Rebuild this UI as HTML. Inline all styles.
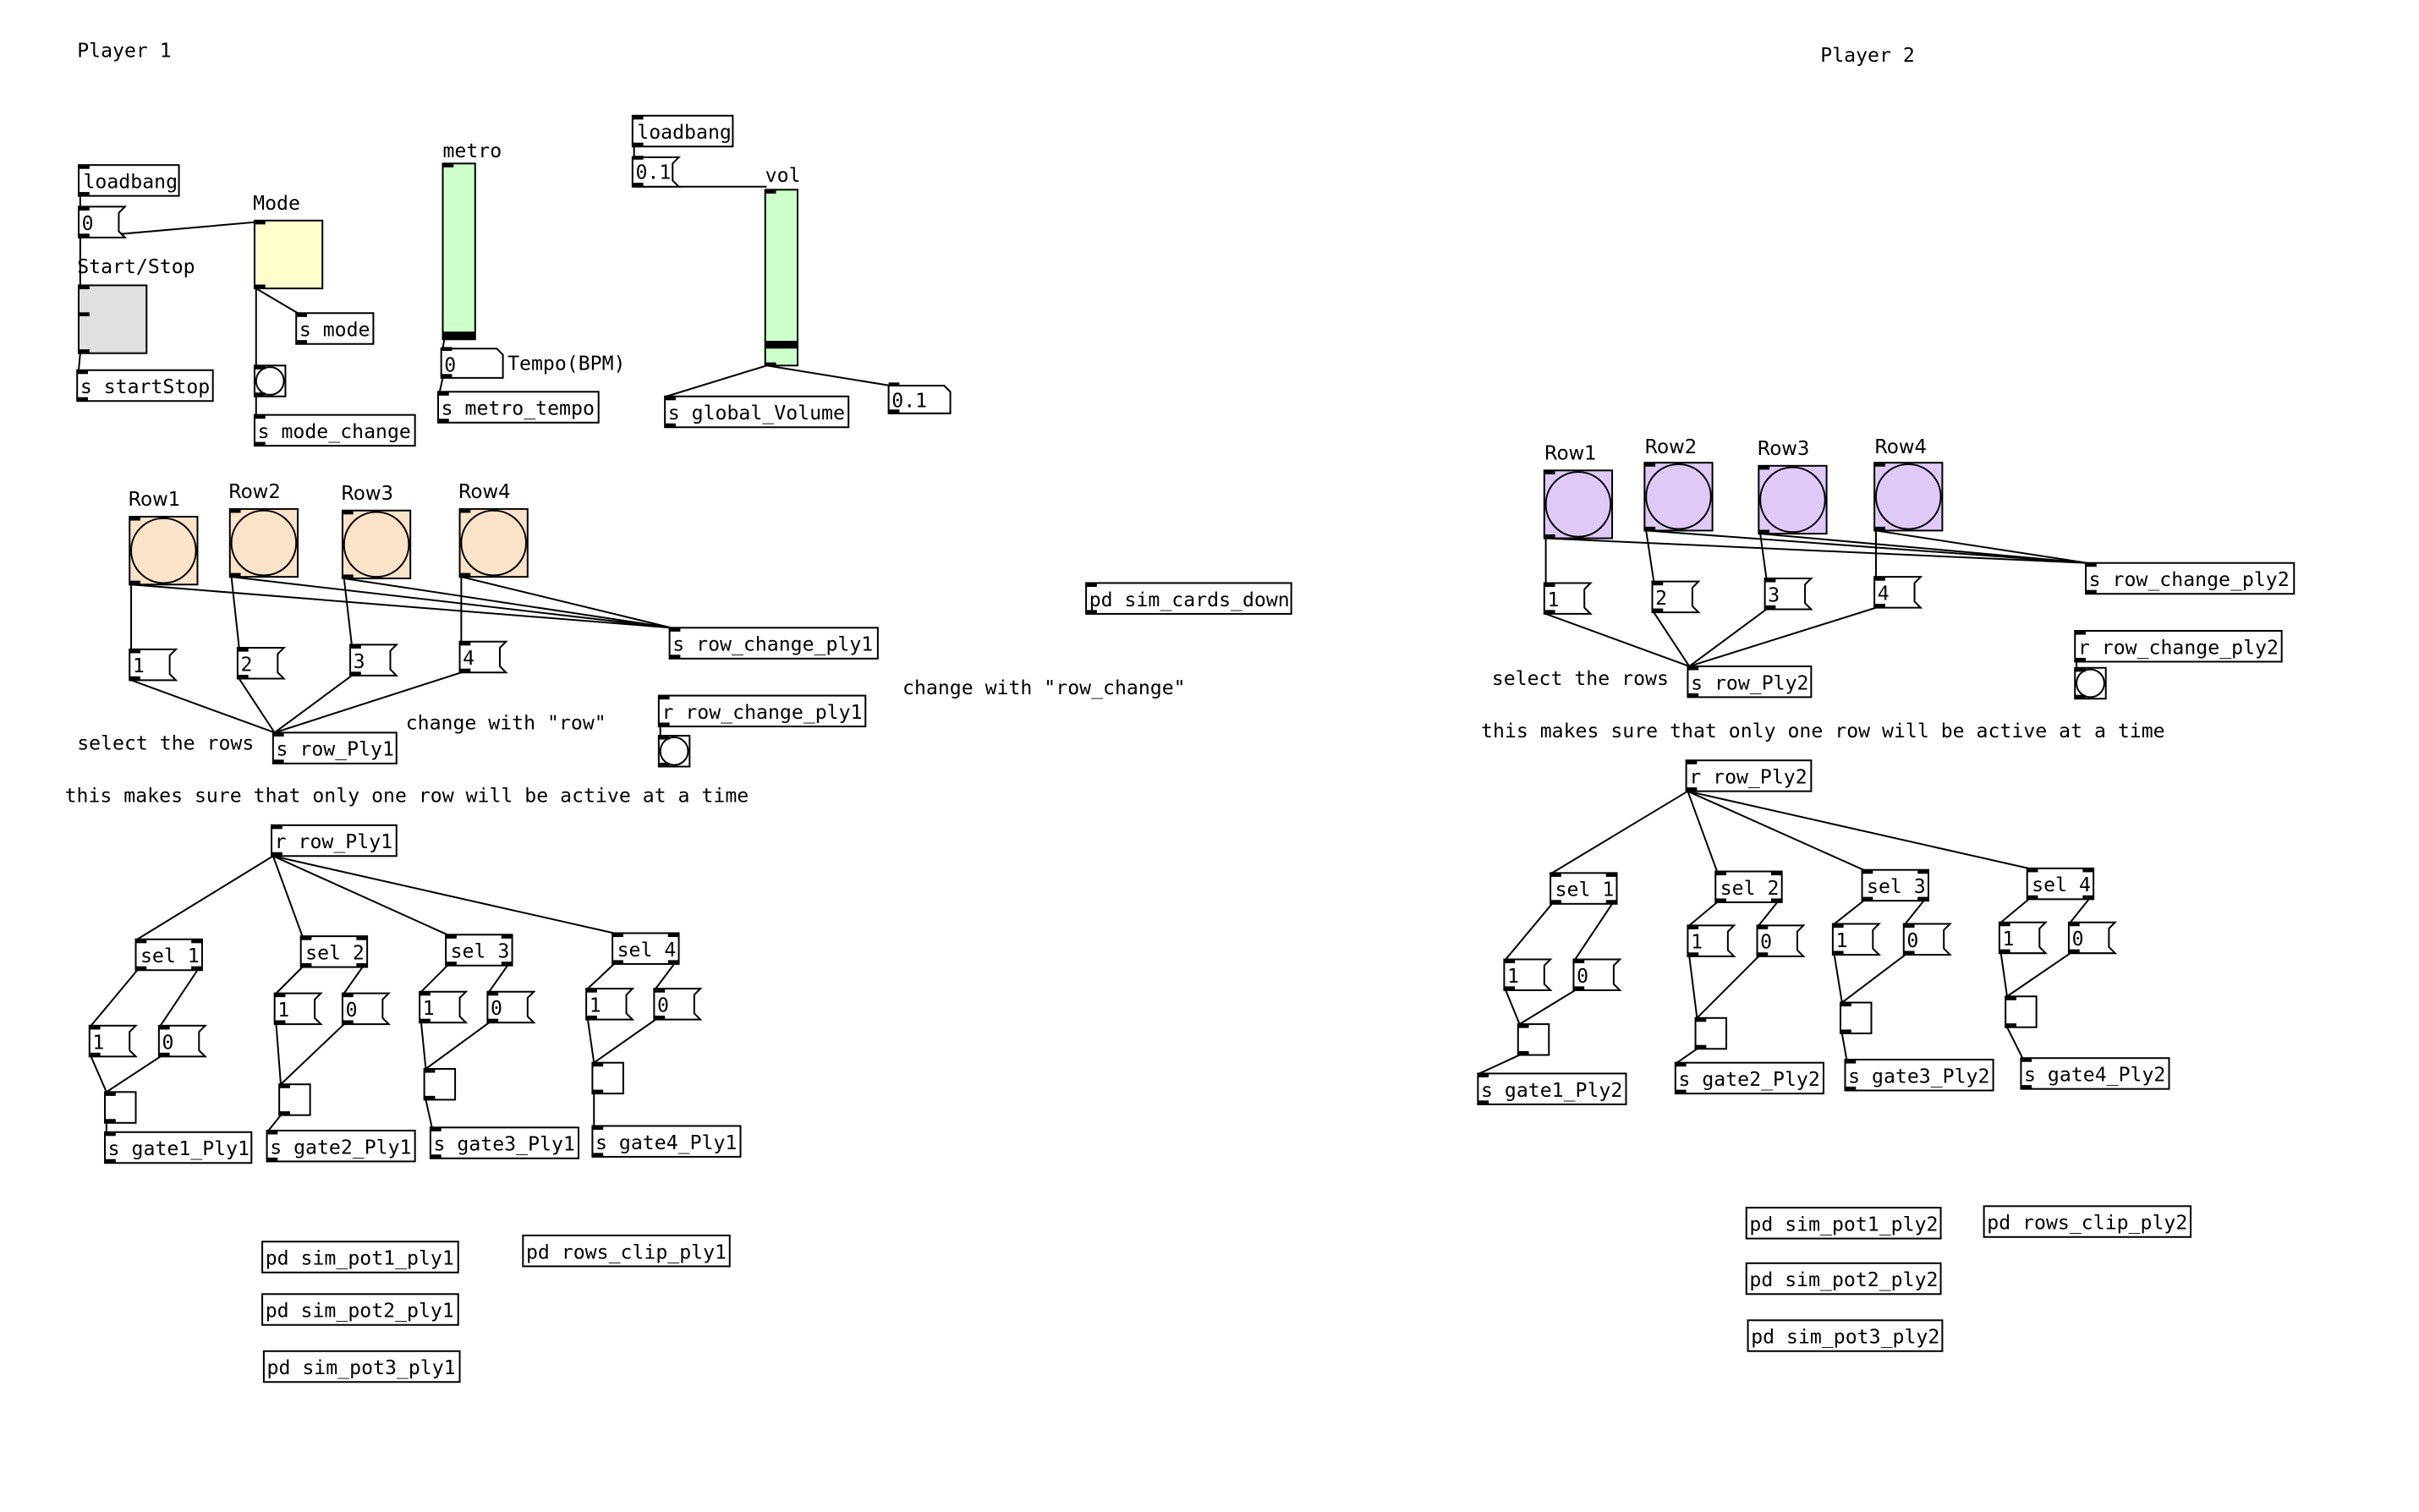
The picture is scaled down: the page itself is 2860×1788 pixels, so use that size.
<!DOCTYPE html>
<html><head><meta charset="utf-8"><style>
html,body{margin:0;padding:0;background:#fff;}
svg{display:block}
text{font-family:"DejaVu Sans Mono","Liberation Mono",monospace;font-size:12.7px;fill:#000}
text.l{font-family:"DejaVu Sans","Liberation Sans",sans-serif;font-size:12.5px}
.b{fill:#fff;stroke:#000;stroke-width:1.1}
.c{stroke:#000;stroke-width:1.1;fill:none}
</style></head><body>
<svg width="2860" height="1788" viewBox="0 0 1568 980.3" preserveAspectRatio="none" xmlns="http://www.w3.org/2000/svg">
<defs>
<g id="io"><rect x="0" y="0" width="7" height="2.5"/><rect x="0" y="17.5" width="7" height="2.5"/></g>
<g id="msg"><path class="b" d="M0 0H30L26 4V16L30 20H0Z"/><use href="#io"/></g>
<g id="tg"><rect class="b" x="0" y="0" width="20" height="20" fill="#fafafa"/><use href="#io"/></g>
<g id="bng"><rect class="b" x="0" y="0" width="20" height="20"/><circle class="b" cx="10" cy="10" r="9"/><use href="#io"/></g>
<g id="sel"><rect class="b" x="0" y="0" width="43" height="20"/><use href="#io"/><use href="#io" x="36"/></g>
</defs>

<g class="c">
<path d="M52 127V134M52 154V185M52 154L166 144M52 229L51 240M166 187L193 203M166 187V237M166 257V269"/>
<path d="M288 220L287 226M287 245L285 254M411 95V102M411 121H497M497 237L432 257M497 237L577 250"/>
<path d="M85 379V421M85 379L435 407M150 374L155 420M150 374L435 407M223 375L228 418M223 375L435 407M299 374V416M299 374L435 407"/>
<path d="M85 441L178 475M155 440L178 475M228 438L178 475M299 436L178 475M428 471V477"/>
<path d="M177 555L89 609M177 555L196 607M177 555L290 606M177 555L398 605"/>
<path d="M89 629L59 665M128 629L104 665M59 685L69 708M104 685L69 708M69 728V734"/>
<path d="M196 627L179 644M235 627L223 644M179 664L182 703M223 664L182 703M182 723L174 733"/>
<path d="M290 626L273 643M329 626L317 643M273 663L276 693M317 663L276 693M276 713L280 731"/>
<path d="M398 625L381 641M437 625L425 641M381 661L385 689M425 661L385 689M385 709V730"/>
<path d="M1002 349V378M1002 349L1353 365M1067 344L1072 377M1067 344L1353 365M1141 346L1145 375M1141 346L1353 365M1216 344V374M1216 344L1353 365"/>
<path d="M1002 398L1095 432M1072 397L1095 432M1145 395L1095 432M1216 394L1095 432M1346 429V433"/>
<path d="M1094 513L1006 566M1094 513L1113 565M1094 513L1208 564M1094 513L1315 563"/>
<path d="M1006 586L976 622M1045 586L1021 622M976 642L985 664M1021 642L985 664M985 684L959 696"/>
<path d="M1113 585L1095 600M1152 585L1140 600M1095 620L1100 660M1140 620L1100 660M1100 680L1087 689"/>
<path d="M1208 584L1189 599M1247 584L1235 599M1189 619L1194 650M1235 619L1194 650M1194 670L1197 687"/>
<path d="M1315 583L1297 598M1354 583L1342 598M1297 618L1301 646M1342 618L1301 646M1301 666L1311 686"/>
</g>

<text x="50" y="37">Player 1</text>
<text x="1180" y="40">Player 2</text>

<rect class="b" x="51" y="107" width="65" height="20"/><use href="#io" x="51" y="107"/><text x="54" y="122">loadbang</text>
<use href="#msg" x="51" y="134"/><text x="53" y="149">0</text>
<text x="50" y="177">Start/Stop</text>
<rect x="51" y="185" width="44" height="44" fill="#e0e0e0" stroke="#000" stroke-width="1.1"/><use href="#io" x="51" y="185"/><rect x="51" y="226.5" width="7" height="2.5"/>
<rect class="b" x="50" y="240" width="88" height="20"/><use href="#io" x="50" y="240"/><text x="52" y="255">s startStop</text>
<text x="164" y="136">Mode</text>
<rect x="165" y="143" width="44" height="44" fill="#ffffcc" stroke="#000" stroke-width="1.1"/><rect x="165" y="143" width="7" height="2.5"/><rect x="165" y="184.5" width="7" height="2.5"/>
<rect class="b" x="192" y="203" width="50" height="20"/><use href="#io" x="192" y="203"/><text x="194" y="218">s mode</text>
<use href="#bng" x="165" y="237"/>
<rect class="b" x="165" y="269" width="104" height="20"/><use href="#io" x="165" y="269"/><text x="167" y="284">s mode_change</text>

<text x="287" y="102">metro</text>
<rect x="287" y="106" width="21" height="114" fill="#ccffcc" stroke="#000" stroke-width="1.1"/><rect x="287" y="215" width="21" height="5"/><rect x="287" y="106" width="7" height="2.5"/>
<path class="b" d="M286 226H322L326 230V245H286Z"/><use href="#io" x="286" y="225"/><text x="288" y="241">0</text><text x="329" y="240">Tempo(BPM)</text>
<rect class="b" x="284" y="254" width="104" height="20"/><use href="#io" x="284" y="254"/><text x="286" y="269">s metro_tempo</text>

<rect class="b" x="410" y="75" width="65" height="20"/><use href="#io" x="410" y="75"/><text x="413" y="90">loadbang</text>
<path class="b" d="M410 102H440L436 106V117L440 121H410Z"/><use href="#io" x="410" y="101"/><text x="412" y="116">0.1</text>
<text x="496" y="118">vol</text>
<rect x="496" y="123" width="21" height="114" fill="#ccffcc" stroke="#000" stroke-width="1.1"/><rect x="496" y="221" width="21" height="5"/><rect x="496" y="123" width="7" height="2.5"/><rect x="496" y="235" width="7" height="2.5"/>
<rect class="b" x="431" y="257" width="119" height="20"/><use href="#io" x="431" y="257"/><text x="433" y="272">s global_Volume</text>
<path class="b" d="M576 250H612L616 254V268H576Z"/><use href="#io" x="576" y="248"/><text x="578" y="264">0.1</text>

<g fill="#fbe3c9" stroke="#000" stroke-width="1.1">
<rect x="84" y="335" width="44" height="44"/><rect x="149" y="330" width="44" height="44"/><rect x="222" y="331" width="44" height="44"/><rect x="298" y="330" width="44" height="44"/>
<ellipse cx="106" cy="357" rx="21" ry="21"/><ellipse cx="171" cy="352" rx="21" ry="21"/><ellipse cx="244" cy="353" rx="21" ry="21"/><ellipse cx="320" cy="352" rx="21" ry="21"/>
</g>
<rect x="84" y="335" width="7" height="2.5"/><rect x="84" y="376.5" width="7" height="2.5"/>
<rect x="149" y="330" width="7" height="2.5"/><rect x="149" y="371.5" width="7" height="2.5"/>
<rect x="222" y="331" width="7" height="2.5"/><rect x="222" y="372.5" width="7" height="2.5"/>
<rect x="298" y="330" width="7" height="2.5"/><rect x="298" y="371.5" width="7" height="2.5"/>
<text class="l" x="83" y="328">Row1</text><text class="l" x="148" y="323">Row2</text><text class="l" x="221" y="324">Row3</text><text class="l" x="297" y="323">Row4</text>

<use href="#msg" x="84" y="421"/><text x="86" y="436">1</text>
<use href="#msg" x="154" y="420"/><text x="156" y="435">2</text>
<use href="#msg" x="227" y="418"/><text x="229" y="433">3</text>
<use href="#msg" x="298" y="416"/><text x="300" y="431">4</text>
<rect class="b" x="434" y="407" width="135" height="20"/><use href="#io" x="434" y="407"/><text x="436" y="422">s row_change_ply1</text>
<rect class="b" x="427" y="451" width="134" height="20"/><use href="#io" x="427" y="451"/><text x="429" y="466">r row_change_ply1</text>
<use href="#bng" x="427" y="477"/>
<rect class="b" x="177" y="475" width="80" height="20"/><use href="#io" x="177" y="475"/><text x="179" y="490">s row_Ply1</text>
<text x="50" y="486">select the rows</text>
<text x="263" y="473">change with "row"</text>
<text x="585" y="450">change with "row_change"</text>
<text x="42" y="520">this makes sure that only one row will be active at a time</text>
<rect class="b" x="704" y="378" width="133" height="20"/><use href="#io" x="704" y="378"/><text x="706" y="393">pd sim_cards_down</text>
<rect class="b" x="176" y="535" width="81" height="20"/><use href="#io" x="176" y="535"/><text x="178" y="550">r row_Ply1</text>

<use href="#sel" x="88" y="609"/><text x="91" y="624">sel 1</text>
<use href="#sel" x="195" y="607"/><text x="198" y="622">sel 2</text>
<use href="#sel" x="289" y="606"/><text x="292" y="621">sel 3</text>
<use href="#sel" x="397" y="605"/><text x="400" y="620">sel 4</text>
<use href="#msg" x="58" y="665"/><text x="60" y="680">1</text><use href="#msg" x="103" y="665"/><text x="105" y="680">0</text>
<use href="#msg" x="178" y="644"/><text x="180" y="659">1</text><use href="#msg" x="222" y="644"/><text x="224" y="659">0</text>
<use href="#msg" x="272" y="643"/><text x="274" y="658">1</text><use href="#msg" x="316" y="643"/><text x="318" y="658">0</text>
<use href="#msg" x="380" y="641"/><text x="382" y="656">1</text><use href="#msg" x="424" y="641"/><text x="426" y="656">0</text>
<use href="#tg" x="68" y="708"/><use href="#tg" x="181" y="703"/><use href="#tg" x="275" y="693"/><use href="#tg" x="384" y="689"/>
<rect class="b" x="68" y="734" width="95" height="20"/><use href="#io" x="68" y="734"/><text x="70" y="749">s gate1_Ply1</text>
<rect class="b" x="173" y="733" width="96" height="20"/><use href="#io" x="173" y="733"/><text x="175" y="748">s gate2_Ply1</text>
<rect class="b" x="279" y="731" width="96" height="20"/><use href="#io" x="279" y="731"/><text x="281" y="746">s gate3_Ply1</text>
<rect class="b" x="384" y="730" width="96" height="20"/><use href="#io" x="384" y="730"/><text x="386" y="745">s gate4_Ply1</text>
<rect class="b" x="170" y="805" width="127" height="20"/><text x="172" y="820">pd sim_pot1_ply1</text>
<rect class="b" x="170" y="839" width="127" height="20"/><text x="172" y="854">pd sim_pot2_ply1</text>
<rect class="b" x="171" y="876" width="127" height="20"/><text x="173" y="891">pd sim_pot3_ply1</text>
<rect class="b" x="339" y="801" width="134" height="20"/><text x="341" y="816">pd rows_clip_ply1</text>

<g fill="#dfc9f7" stroke="#000" stroke-width="1.1">
<rect x="1001" y="305" width="44" height="44"/><rect x="1066" y="300" width="44" height="44"/><rect x="1140" y="302" width="44" height="44"/><rect x="1215" y="300" width="44" height="44"/>
<ellipse cx="1023" cy="327" rx="21" ry="21"/><ellipse cx="1088" cy="322" rx="21" ry="21"/><ellipse cx="1162" cy="324" rx="21" ry="21"/><ellipse cx="1237" cy="322" rx="21" ry="21"/>
</g>
<rect x="1001" y="305" width="7" height="2.5"/><rect x="1001" y="346.5" width="7" height="2.5"/>
<rect x="1066" y="300" width="7" height="2.5"/><rect x="1066" y="341.5" width="7" height="2.5"/>
<rect x="1140" y="302" width="7" height="2.5"/><rect x="1140" y="343.5" width="7" height="2.5"/>
<rect x="1215" y="300" width="7" height="2.5"/><rect x="1215" y="341.5" width="7" height="2.5"/>
<text class="l" x="1001" y="298">Row1</text><text class="l" x="1066" y="294">Row2</text><text class="l" x="1139" y="295">Row3</text><text class="l" x="1215" y="294">Row4</text>

<use href="#msg" x="1001" y="378"/><text x="1003" y="393">1</text>
<use href="#msg" x="1071" y="377"/><text x="1073" y="392">2</text>
<use href="#msg" x="1144" y="375"/><text x="1146" y="390">3</text>
<use href="#msg" x="1215" y="374"/><text x="1217" y="389">4</text>
<rect class="b" x="1352" y="365" width="135" height="20"/><use href="#io" x="1352" y="365"/><text x="1354" y="380">s row_change_ply2</text>
<rect class="b" x="1345" y="409" width="134" height="20"/><use href="#io" x="1345" y="409"/><text x="1347" y="424">r row_change_ply2</text>
<use href="#bng" x="1345" y="433"/>
<rect class="b" x="1094" y="432" width="80" height="20"/><use href="#io" x="1094" y="432"/><text x="1096" y="447">s row_Ply2</text>
<text x="967" y="444">select the rows</text>
<text x="960" y="478">this makes sure that only one row will be active at a time</text>
<rect class="b" x="1093" y="493" width="81" height="20"/><use href="#io" x="1093" y="493"/><text x="1095" y="508">r row_Ply2</text>

<use href="#sel" x="1005" y="566"/><text x="1008" y="581">sel 1</text>
<use href="#sel" x="1112" y="565"/><text x="1115" y="580">sel 2</text>
<use href="#sel" x="1207" y="564"/><text x="1210" y="579">sel 3</text>
<use href="#sel" x="1314" y="563"/><text x="1317" y="578">sel 4</text>
<use href="#msg" x="975" y="622"/><text x="977" y="637">1</text><use href="#msg" x="1020" y="622"/><text x="1022" y="637">0</text>
<use href="#msg" x="1094" y="600"/><text x="1096" y="615">1</text><use href="#msg" x="1139" y="600"/><text x="1141" y="615">0</text>
<use href="#msg" x="1188" y="599"/><text x="1190" y="614">1</text><use href="#msg" x="1234" y="599"/><text x="1236" y="614">0</text>
<use href="#msg" x="1296" y="598"/><text x="1298" y="613">1</text><use href="#msg" x="1341" y="598"/><text x="1343" y="613">0</text>
<use href="#tg" x="984" y="664"/><use href="#tg" x="1099" y="660"/><use href="#tg" x="1193" y="650"/><use href="#tg" x="1300" y="646"/>
<rect class="b" x="958" y="696" width="96" height="20"/><use href="#io" x="958" y="696"/><text x="960" y="711">s gate1_Ply2</text>
<rect class="b" x="1086" y="689" width="96" height="20"/><use href="#io" x="1086" y="689"/><text x="1088" y="704">s gate2_Ply2</text>
<rect class="b" x="1196" y="687" width="96" height="20"/><use href="#io" x="1196" y="687"/><text x="1198" y="702">s gate3_Ply2</text>
<rect class="b" x="1310" y="686" width="96" height="20"/><use href="#io" x="1310" y="686"/><text x="1312" y="701">s gate4_Ply2</text>
<rect class="b" x="1132" y="783" width="126" height="20"/><text x="1134" y="798">pd sim_pot1_ply2</text>
<rect class="b" x="1132" y="819" width="126" height="20"/><text x="1134" y="834">pd sim_pot2_ply2</text>
<rect class="b" x="1133" y="856" width="126" height="20"/><text x="1135" y="871">pd sim_pot3_ply2</text>
<rect class="b" x="1286" y="782" width="134" height="20"/><text x="1288" y="797">pd rows_clip_ply2</text>
</svg>
</body></html>
